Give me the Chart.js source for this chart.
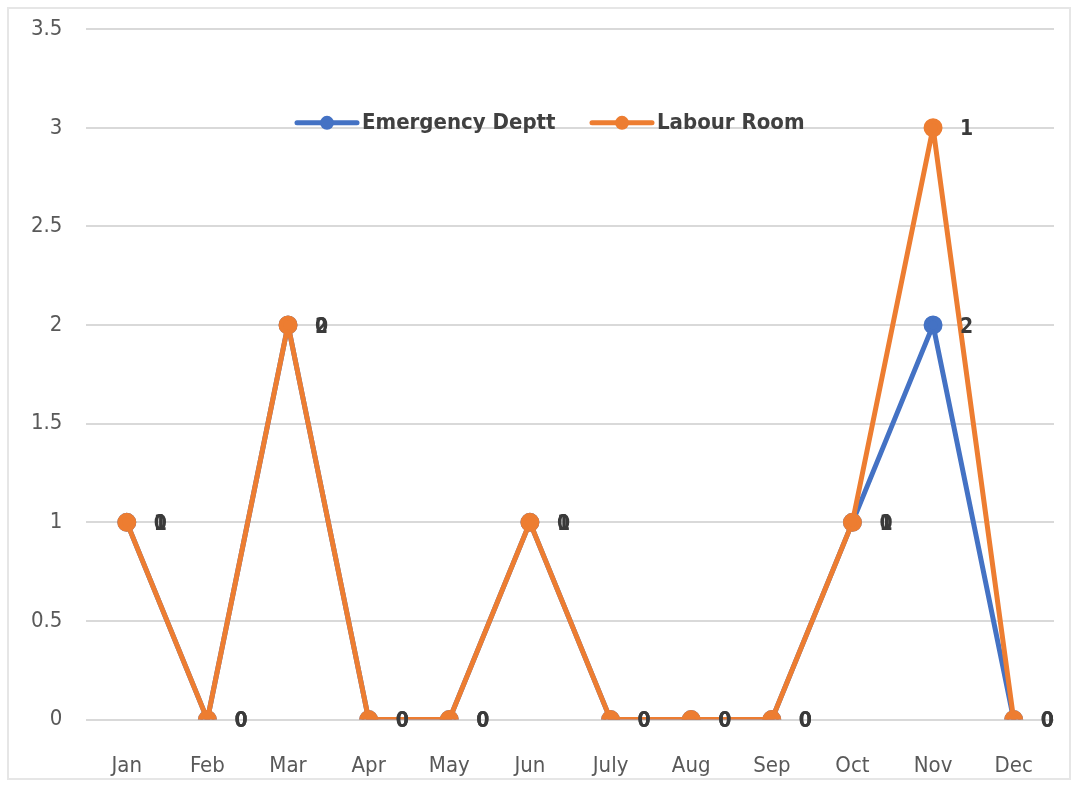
<!DOCTYPE html>
<html>
<head>
<meta charset="utf-8">
<script src="https://cdn.jsdelivr.net/npm/chart.js@4/dist/chart.umd.min.js"></script>
<style>
html,body{margin:0;padding:0;background:#fff;overflow:hidden;}
#frame{position:absolute;left:7px;top:7px;width:1064px;height:773px;border:2px solid #e6e6e6;box-sizing:border-box;}
#wrap{position:absolute;left:0;top:0;width:1078px;height:787px;overflow:hidden;}
#lineChart{position:absolute;left:0;top:-8px;}
</style>
</head>
<body>
<div id="frame"></div>
<div id="wrap"><canvas id="lineChart" width="1078" height="820"></canvas></div>
<script>
const months = ['Jan','Feb','Mar','Apr','May','Jun','July','Aug','Sep','Oct','Nov','Dec'];
const emergency = [1,0,2,0,0,1,0,0,0,1,2,0];
const labour = [0,0,0,0,0,0,0,0,0,0,1,0];
const yTicks = [0,0.5,1,1.5,2,2.5,3,3.5];

// stacked line: labour sits on top of emergency
const labourStacked = labour.map((v,i)=>v + emergency[i]);

const tickFont = "'Liberation Sans Narrow','DejaVu Sans Condensed','Open Sans',sans-serif";

// value labels to the right of each point, showing each series' own value
const pointLabels = {
id:'pointLabels',
afterDatasetsDraw(chart){
const ctx = chart.ctx;
ctx.save();
ctx.font = "bold 21px " + tickFont;
ctx.fillStyle = '#3a3a3a';
ctx.textBaseline = 'middle';
// draw emergency first, labour on top
for(let i = chart.data.datasets.length-1; i >= 0; i--){
const ds = chart.data.datasets[i];
const meta = chart.getDatasetMeta(i);
meta.data.forEach((pt,j)=>{
ctx.fillText(String(ds.raw[j]), pt.x + 27, pt.y + 2);
});
}
ctx.restore();
}
};

// legend drawn inside the plot, near the 3 line
const innerLegend = {
id:'innerLegend',
afterDraw(chart){
const ctx = chart.ctx;
const y = chart.scales.y.getPixelForValue(3) - 5;
const items = [
{text:'Emergency Deptt', color:'#4472C4', x:297},
{text:'Labour Room', color:'#ED7D31', x:592}
];
ctx.save();
ctx.font = "bold 22px " + tickFont;
ctx.textBaseline = 'middle';
items.forEach(it=>{
ctx.strokeStyle = it.color;
ctx.lineWidth = 5;
ctx.lineCap = 'round';
ctx.beginPath();
ctx.moveTo(it.x, y);
ctx.lineTo(it.x+60, y);
ctx.stroke();
ctx.fillStyle = it.color;
ctx.beginPath();
ctx.arc(it.x+30, y, 7, 0, Math.PI*2);
ctx.fill();
ctx.fillStyle = '#404040';
ctx.fillText(it.text, it.x+65, y);
});
ctx.restore();
}
};

new Chart(document.getElementById('lineChart'),{
type:'line',
data:{
labels:months,
datasets:[
{label:'Labour Room', data:labourStacked, raw:labour, borderColor:'#ED7D31', backgroundColor:'#ED7D31', borderWidth:5, borderJoinStyle:'round', borderCapStyle:'round', pointRadius:7, pointHoverRadius:7, tension:0},
{label:'Emergency Deptt', data:emergency, raw:emergency, borderColor:'#4472C4', backgroundColor:'#4472C4', borderWidth:5, borderJoinStyle:'round', borderCapStyle:'round', pointRadius:7, pointHoverRadius:7, tension:0}
]
},
options:{
responsive:false,
animation:false,
layout:{padding:{left:7, right:24, top:0, bottom:0}},
plugins:{legend:{display:false}, tooltip:{enabled:false}},
scales:{
x:{
offset:true,
grid:{display:false, drawTicks:false},
border:{display:false},
ticks:{color:'#595959', padding:33, maxRotation:0, autoSkip:false, font:{family:tickFont, size:22}}
},
y:{
min:0, max:3.5,
afterBuildTicks(axis){ axis.ticks = yTicks.map(v=>({value:v})); },
grid:{color:'#d9d9d9', lineWidth:2, drawTicks:false},
border:{display:false},
ticks:{color:'#595959', padding:24, font:{family:tickFont, size:22}, callback:v=>String(v)}
}
}
},
plugins:[pointLabels, innerLegend]
});
</script>
</body>
</html>
